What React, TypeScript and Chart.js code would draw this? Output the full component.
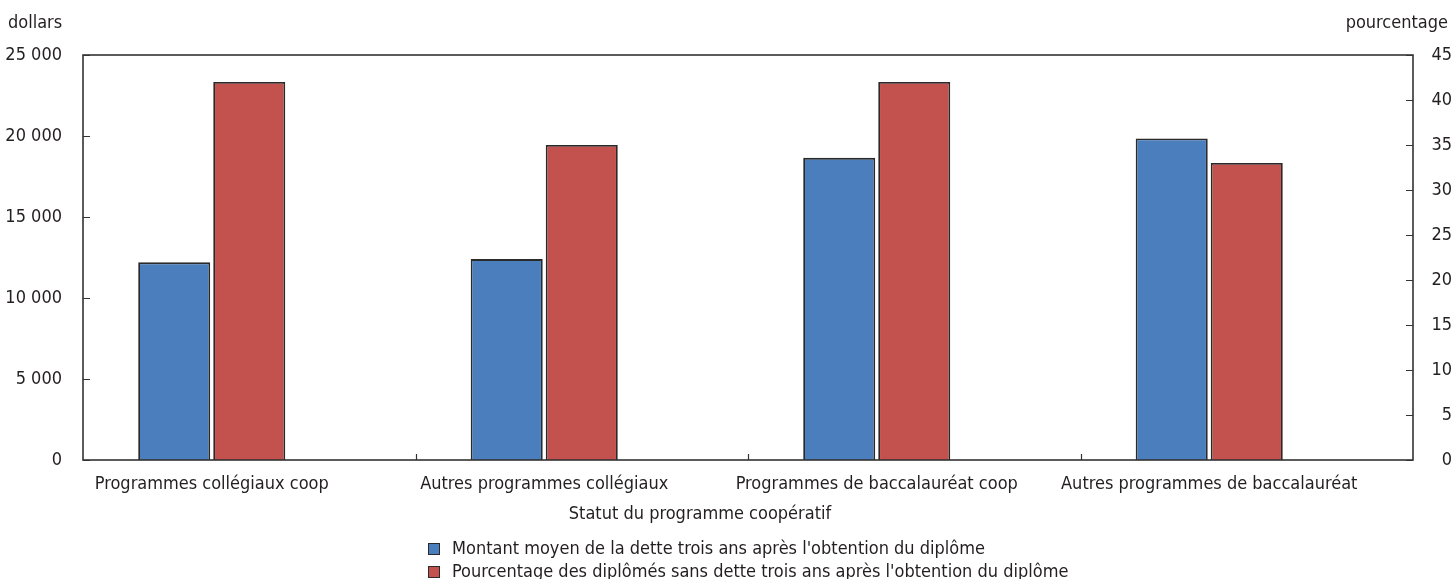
import { useEffect, useRef } from 'react';
import { Chart, registerables } from 'chart.js';

Chart.register(...registerables);

const categories = [
  'Programmes collégiaux coop',
  'Autres programmes collégiaux',
  'Programmes de baccalauréat coop',
  'Autres programmes de baccalauréat',
];
const debtLabel = "Montant moyen de la dette trois ans après l'obtention du diplôme";
const debtValues = [12200, 12400, 18650, 19850];
const noDebtLabel = "Pourcentage des diplômés sans dette trois ans après l'obtention du diplôme";
const noDebtPercent = [42, 35, 42, 33];
const spacerValues = [0, 0, 0, 0];
const leftTickValues = [0, 5000, 10000, 15000, 20000, 25000];
const rightTickValues = [0, 5, 10, 15, 20, 25, 30, 35, 40, 45];
const xTitle = 'Statut du programme coopératif';
const leftTitle = 'dollars';
const rightTitle = 'pourcentage';

const BLUE = '#4A7EBD';
const RED = '#C3514E';
const EDGE = '#2a2a2a';
const TEXT = '#231f20';
const FONT = "'Liberation Sans Narrow', 'DejaVu Sans Condensed', 'Arial Narrow', sans-serif";
const FONT_SIZE = 18;

const fmtThousands = (v: number) => String(v).replace(/\B(?=(\d{3})+(?!\d))/g, ' ');

const decorPlugin = {
  id: 'decor',
  afterDatasetsDraw(chart: any) {
    const { ctx, chartArea: a, scales } = chart;
    ctx.save();
    ctx.strokeStyle = '#333';
    ctx.lineWidth = 1.6;
    ctx.strokeRect(a.left, a.top, a.right - a.left, a.bottom - a.top);
    ctx.lineWidth = 1.2;
    ctx.beginPath();
    scales.y.ticks.forEach((t: any) => {
      const py = Math.round(scales.y.getPixelForValue(t.value)) + 0.5;
      ctx.moveTo(a.left, py);
      ctx.lineTo(a.left + 7, py);
    });
    scales.y1.ticks.forEach((t: any) => {
      const py = Math.round(scales.y1.getPixelForValue(t.value)) + 0.5;
      ctx.moveTo(a.right, py);
      ctx.lineTo(a.right - 7, py);
    });
    for (let i = 1; i < categories.length; i++) {
      const px = Math.round((scales.x.getPixelForValue(i - 1) + scales.x.getPixelForValue(i)) / 2) + 0.5;
      ctx.moveTo(px, a.bottom);
      ctx.lineTo(px, a.bottom - 6);
    }
    ctx.stroke();
    ctx.restore();
  },
  afterDraw(chart: any) {
    const { ctx, chartArea: a, width } = chart;
    ctx.save();
    ctx.fillStyle = TEXT;
    ctx.font = `${FONT_SIZE}px ${FONT}`;
    ctx.textBaseline = 'middle';
    ctx.textAlign = 'left';
    ctx.fillText(leftTitle, 8, 23);
    ctx.textAlign = 'right';
    ctx.fillText(rightTitle, width - 4, 23);
    ctx.textAlign = 'center';
    const mid = (a.left + a.right) / 2;
    ctx.fillText(xTitle, mid - 48, 514);
    const items = [
      { label: debtLabel, color: BLUE },
      { label: noDebtLabel, color: RED },
    ];
    const lx = mid - 320;
    items.forEach((it, i) => {
      const cy = 549 + i * 23;
      ctx.fillStyle = it.color;
      ctx.fillRect(lx, cy - 6, 12, 12);
      ctx.strokeStyle = EDGE;
      ctx.lineWidth = 1;
      ctx.strokeRect(lx + 0.5, cy - 5.5, 11, 11);
      ctx.fillStyle = TEXT;
      ctx.textAlign = 'left';
      ctx.fillText(it.label, lx + 24, cy);
    });
    ctx.restore();
  },
};

export default function App() {
  const ref = useRef<HTMLCanvasElement | null>(null);

  useEffect(() => {
    if (!ref.current) return;
    Chart.defaults.font.family = FONT;
    Chart.defaults.font.size = FONT_SIZE;
    Chart.defaults.color = TEXT;
    const chart = new Chart(ref.current, {
      type: 'bar',
      data: {
        labels: categories,
        datasets: [
          {
            label: debtLabel,
            data: debtValues,
            yAxisID: 'y',
            backgroundColor: BLUE,
            borderColor: EDGE,
            borderWidth: 1.8,
          },
          {
            label: noDebtLabel,
            data: noDebtPercent,
            yAxisID: 'y1',
            backgroundColor: RED,
            borderColor: EDGE,
            borderWidth: 1.8,
          },
          {
            label: '',
            data: spacerValues,
            yAxisID: 'y',
            backgroundColor: 'rgba(0,0,0,0)',
            borderWidth: 0,
          },
        ],
      },
      options: {
        responsive: false,
        animation: false,
        datasets: { bar: { categoryPercentage: 0.677, barPercentage: 0.96 } },
        layout: { padding: { top: 55, left: 0, right: 0, bottom: 0 } },
        plugins: {
          legend: { display: false },
          tooltip: { enabled: false },
        },
        scales: {
          x: {
            offset: true,
            grid: { display: false },
            border: { display: false },
            ticks: { labelOffset: -37.5, padding: 6, maxRotation: 0, autoSkip: false },
            afterFit: (s: any) => { s.height = 119; },
          },
          y: {
            position: 'left',
            min: 0,
            max: 25000,
            grid: { display: false },
            border: { display: false },
            afterBuildTicks: (s: any) => { s.ticks = leftTickValues.map((v) => ({ value: v })); },
            ticks: { padding: 13, callback: (v: any) => fmtThousands(Number(v)) },
            afterFit: (s: any) => { s.width = 83; },
          },
          y1: {
            position: 'right',
            min: 0,
            max: 45,
            grid: { display: false },
            border: { display: false },
            afterBuildTicks: (s: any) => { s.ticks = rightTickValues.map((v) => ({ value: v })); },
            ticks: { padding: 11, crossAlign: 'far' },
            afterFit: (s: any) => { s.width = 39; },
          },
        },
      },
      plugins: [decorPlugin],
    });
    return () => chart.destroy();
  }, []);

  return (
    <div style={{ position: 'fixed', left: 0, top: 0, width: 1452, height: 579, overflow: 'hidden', background: '#fff' }}>
      <canvas ref={ref} width={1452} height={579} style={{ display: 'block', width: 1452, height: 579 }} />
    </div>
  );
}
